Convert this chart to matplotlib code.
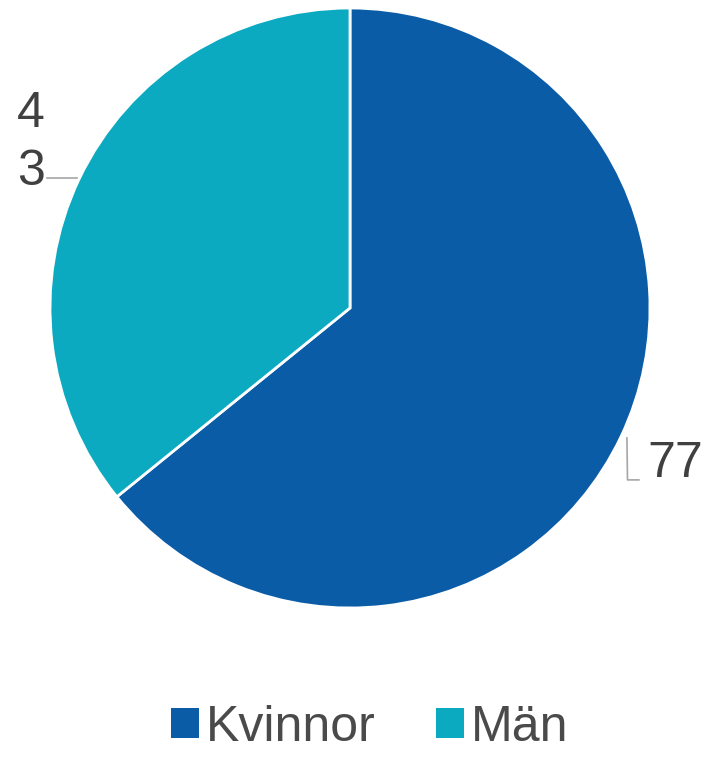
import matplotlib.pyplot as plt
from matplotlib.patches import Patch

plt.rcParams['font.family'] = ['Liberation Sans', 'DejaVu Sans']

# data
categories = ['Kvinnor', 'Män']
values = [77, 43]
colors = ['#0B5CA7', '#0BAAC1']
value_labels = ['77', '4\n3']

fig = plt.figure(figsize=(7.15, 7.57), dpi=100)
ax = fig.add_axes([50 / 715, 149 / 757, 600 / 715, 600 / 757])

wedges, _ = ax.pie(values, colors=colors, startangle=90, counterclock=False,
                   radius=1, wedgeprops=dict(edgecolor='white', linewidth=2))
ax.set_xlim(-1, 1)
ax.set_ylim(-1, 1)
ax.set_aspect('equal')
ax.axis('off')

txt_color = '#404040'
line_color = '#a6a6a6'

# label for Kvinnor with L-shaped leader
ax.plot([0.923, 0.925, 0.963], [-0.433, -0.573, -0.573], color=line_color, lw=1.2, clip_on=False)
ax.text(0.99, -0.52, value_labels[0], fontsize=36, color=txt_color,
        ha='left', va='center')

# label for Män
ax.plot([-1.01, -0.91], [0.433, 0.433], color=line_color, lw=1.2, clip_on=False)
ax.text(-1.017, 0.55, value_labels[1], fontsize=36, color=txt_color,
        ha='right', va='center', linespacing=1.35)

handles = [Patch(facecolor=c, edgecolor='none') for c in colors]
fig.legend(handles, categories, loc='center', bbox_to_anchor=(370 / 715, 1 - 728 / 757),
           ncol=2, frameon=False, fontsize=36, labelcolor='#4a4a4a',
           handlelength=0.55, handleheight=0.55, handletextpad=0.15, columnspacing=1.2)

fig.savefig('out.png', dpi=100)
